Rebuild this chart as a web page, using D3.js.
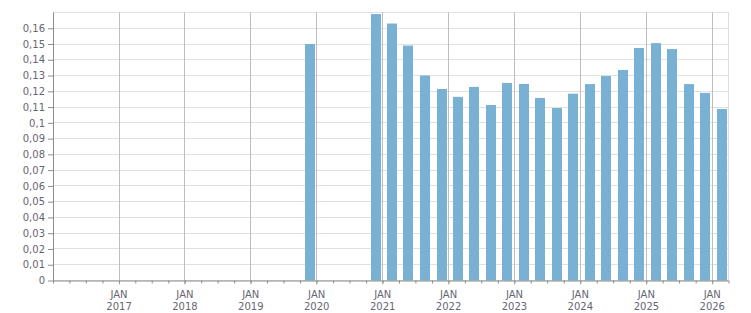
<!DOCTYPE html>
<html lang="en">
<head>
    <meta charset="UTF-8">
    <title>Chart</title>
    <script src="https://cdn.jsdelivr.net/npm/d3@7/dist/d3.min.js"></script>
    <style>
        body { margin: 0; background: #fff; }
        text { font-family: "DejaVu Sans", Verdana, sans-serif; font-size: 10px; fill: #666672; }
        .bar { fill: #78b1d3; }
    </style>
</head>
<body>
    <svg width=751 height=313></svg>
    <script>
        // quarterly values, dated at the middle month of each quarter
        var dates = ['2019-11', '2020-11', '2021-02', '2021-05', '2021-08', '2021-11',
                     '2022-02', '2022-05', '2022-08', '2022-11', '2023-02', '2023-05',
                     '2023-08', '2023-11', '2024-02', '2024-05', '2024-08', '2024-11',
                     '2025-02', '2025-05', '2025-08', '2025-11', '2026-02'];
        var values = [0.150, 0.169, 0.163, 0.149, 0.130, 0.1215,
                      0.1165, 0.1228, 0.1113, 0.1253, 0.1247, 0.1158,
                      0.1094, 0.1185, 0.1246, 0.1297, 0.1335, 0.1475,
                      0.1506, 0.1468, 0.1246, 0.1190, 0.1088];
        var yTicks = [0, 0.01, 0.02, 0.03, 0.04, 0.05, 0.06, 0.07, 0.08,
                      0.09, 0.1, 0.11, 0.12, 0.13, 0.14, 0.15, 0.16];
        var yGrid = yTicks.concat([0.17]);
        var xDomain = ['2016-01-01', '2026-04-01'];

        var parseMonth = d3.timeParse('%Y-%m'),
            parseDay = d3.timeParse('%Y-%m-%d');

        var data = dates.map(function(d, i) {
            return { date: parseMonth(d), value: values[i] };
        });

        var svg = d3.select('svg'),
            plotLeft = 53, plotRight = 728.5, plotTop = 12.5, plotBottom = 280.5,
            xScale = d3.scaleTime().domain(xDomain.map(parseDay)).range([plotLeft, plotRight]),
            yScale = d3.scaleLinear().domain([0, 0.17]).range([plotBottom, plotTop]),
            barWidth = 10;

        function crisp(v) { return Math.round(v - 0.5) + 0.5; }

        // horizontal grid
        svg.append('g').selectAll('line')
            .data(yGrid)
            .enter().append('line')
            .attr('x1', plotLeft).attr('x2', plotRight)
            .attr('y1', function(d) { return crisp(yScale(d)); })
            .attr('y2', function(d) { return crisp(yScale(d)); })
            .attr('stroke', '#e0e0e0');

        // right border
        svg.append('line')
            .attr('x1', crisp(plotRight)).attr('x2', crisp(plotRight))
            .attr('y1', crisp(plotTop)).attr('y2', plotBottom)
            .attr('stroke', '#dcdcdc');

        // yearly grid
        var years = d3.timeYear.range(parseDay('2017-01-01'), xScale.domain()[1]);
        svg.append('g').selectAll('line')
            .data(years)
            .enter().append('line')
            .attr('x1', function(d) { return crisp(xScale(d)); })
            .attr('x2', function(d) { return crisp(xScale(d)); })
            .attr('y1', crisp(plotTop)).attr('y2', plotBottom + 4)
            .attr('stroke', '#bdbdbd');

        // bars
        svg.append('g').selectAll('rect')
            .data(data)
            .enter().append('rect')
            .classed('bar', true)
            .attr('x', function(d) { return Math.round(xScale(d.date)) - 1; })
            .attr('width', barWidth)
            .attr('y', function(d) { return yScale(d.value); })
            .attr('height', function(d) { return plotBottom - yScale(d.value); });

        // x axis: quarterly ticks, yearly labels
        var xAxis = d3.axisBottom(xScale)
            .ticks(d3.timeMonth.every(3))
            .tickSize(3)
            .tickFormat('');
        var xAxisG = svg.append('g')
            .attr('transform', 'translate(0,' + plotBottom + ')')
            .call(xAxis);
        xAxisG.select('.domain').attr('stroke', '#8c8c8c').attr('d', 'M' + plotLeft + ',0.5H' + plotRight);
        xAxisG.selectAll('.tick line').attr('stroke', '#8c8c8c');

        var labels = svg.append('g').selectAll('text')
            .data(years)
            .enter().append('text')
            .attr('text-anchor', 'middle')
            .attr('x', function(d) { return xScale(d); });
        labels.append('tspan').attr('y', 298).text('JAN');
        labels.append('tspan')
            .attr('x', function(d) { return xScale(d); })
            .attr('y', 310)
            .text(function(d) { return d3.timeFormat('%Y')(d); });

        // y axis
        var yAxis = d3.axisLeft(yScale)
            .tickValues(yTicks)
            .tickSize(5)
            .tickPadding(3)
            .tickFormat(function(d) { return (+d.toFixed(2)).toString().replace('.', ','); });
        var yAxisG = svg.append('g')
            .attr('transform', 'translate(' + plotLeft + ',0)')
            .call(yAxis);
        yAxisG.select('.domain').attr('stroke', '#8c8c8c').attr('d', 'M0.5,' + plotTop + 'V' + (plotBottom + 0.5));
        yAxisG.selectAll('.tick line').attr('stroke', '#8c8c8c');
        svg.selectAll('.tick text').attr('fill', null);
        svg.selectAll('g[font-family]').attr('font-family', null).attr('font-size', null);
    </script>
</body>
</html>
